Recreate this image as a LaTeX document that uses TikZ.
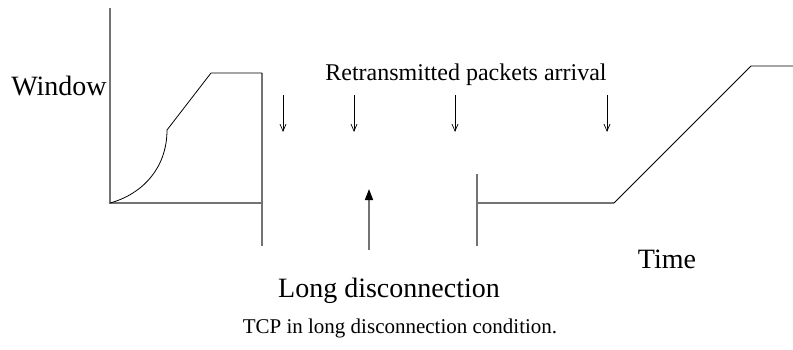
\documentclass[tikz,border=0pt]{standalone}
\usepackage{fontspec}
\setmainfont{Liberation Serif}
\usetikzlibrary{arrows.meta}
\begin{document}
\begin{tikzpicture}[x=1pt,y=-1pt,
  axis/.style={draw=black!55,line width=1.6pt},
  trace/.style={draw=black,line width=0.8pt},
  smallarr/.style={draw=black,line width=0.7pt,-{Straight Barb[length=7pt,width=6pt]}},
  bigarr/.style={draw=black!55,line width=1.6pt,-{Triangle[length=11pt,width=8pt,color=black]}},
  lbl/.style={inner sep=0pt,anchor=base}]
\useasboundingbox (0,0) rectangle (793,349);
% left graph
\coordinate (o) at (110,203);
\coordinate (ytop) at (110,8);
\coordinate (xend) at (262,203);
\coordinate (ctop) at (262,73);
\coordinate (cbot) at (262,246);
\draw[axis] (ytop) -- (o) -- (xend);
\draw[axis] (ctop) -- (cbot);
\coordinate (k) at (167,130);
\coordinate (p) at (211,73);
\draw[trace] (o) .. controls (140,195) and (167,170) .. (k) -- (p) -- (ctop);
% right graph
\coordinate (r0) at (477,174);
\coordinate (r1) at (477,246);
\coordinate (rh) at (477,203);
\coordinate (rs) at (614,203);
\coordinate (rp) at (751,66);
\coordinate (re) at (793,66);
\draw[axis] (r0) -- (r1);
\draw[axis] (rh) -- (rs);
\draw[trace] (rs) -- (rp) -- (re);
% labels
\node[lbl,font=\fontsize{28}{30}\selectfont] (win) at (59,95) {Window};
\node[lbl,font=\fontsize{24}{26}\selectfont] (ret) at (466,80) {Retransmitted packets arrival};
\node[lbl,font=\fontsize{28}{30}\selectfont] (time) at (667,268) {Time};
\node[lbl,font=\fontsize{28}{30}\selectfont] (long) at (389,297) {Long disconnection};
\node[lbl,font=\fontsize{21}{23}\selectfont] (cap) at (400,333) {TCP in long disconnection condition.};
% arrows
\foreach \n/\x in {a/283,b/354,c/455,d/607}{
  \coordinate (\n s) at (\x,95);
  \coordinate (\n e) at (\x,132);
  \draw[smallarr] (\n s) -- (\n e);
}
\coordinate (bs) at (369,250);
\coordinate (be) at (369,189);
\draw[bigarr] (bs) -- (be);
\end{tikzpicture}
\end{document}
